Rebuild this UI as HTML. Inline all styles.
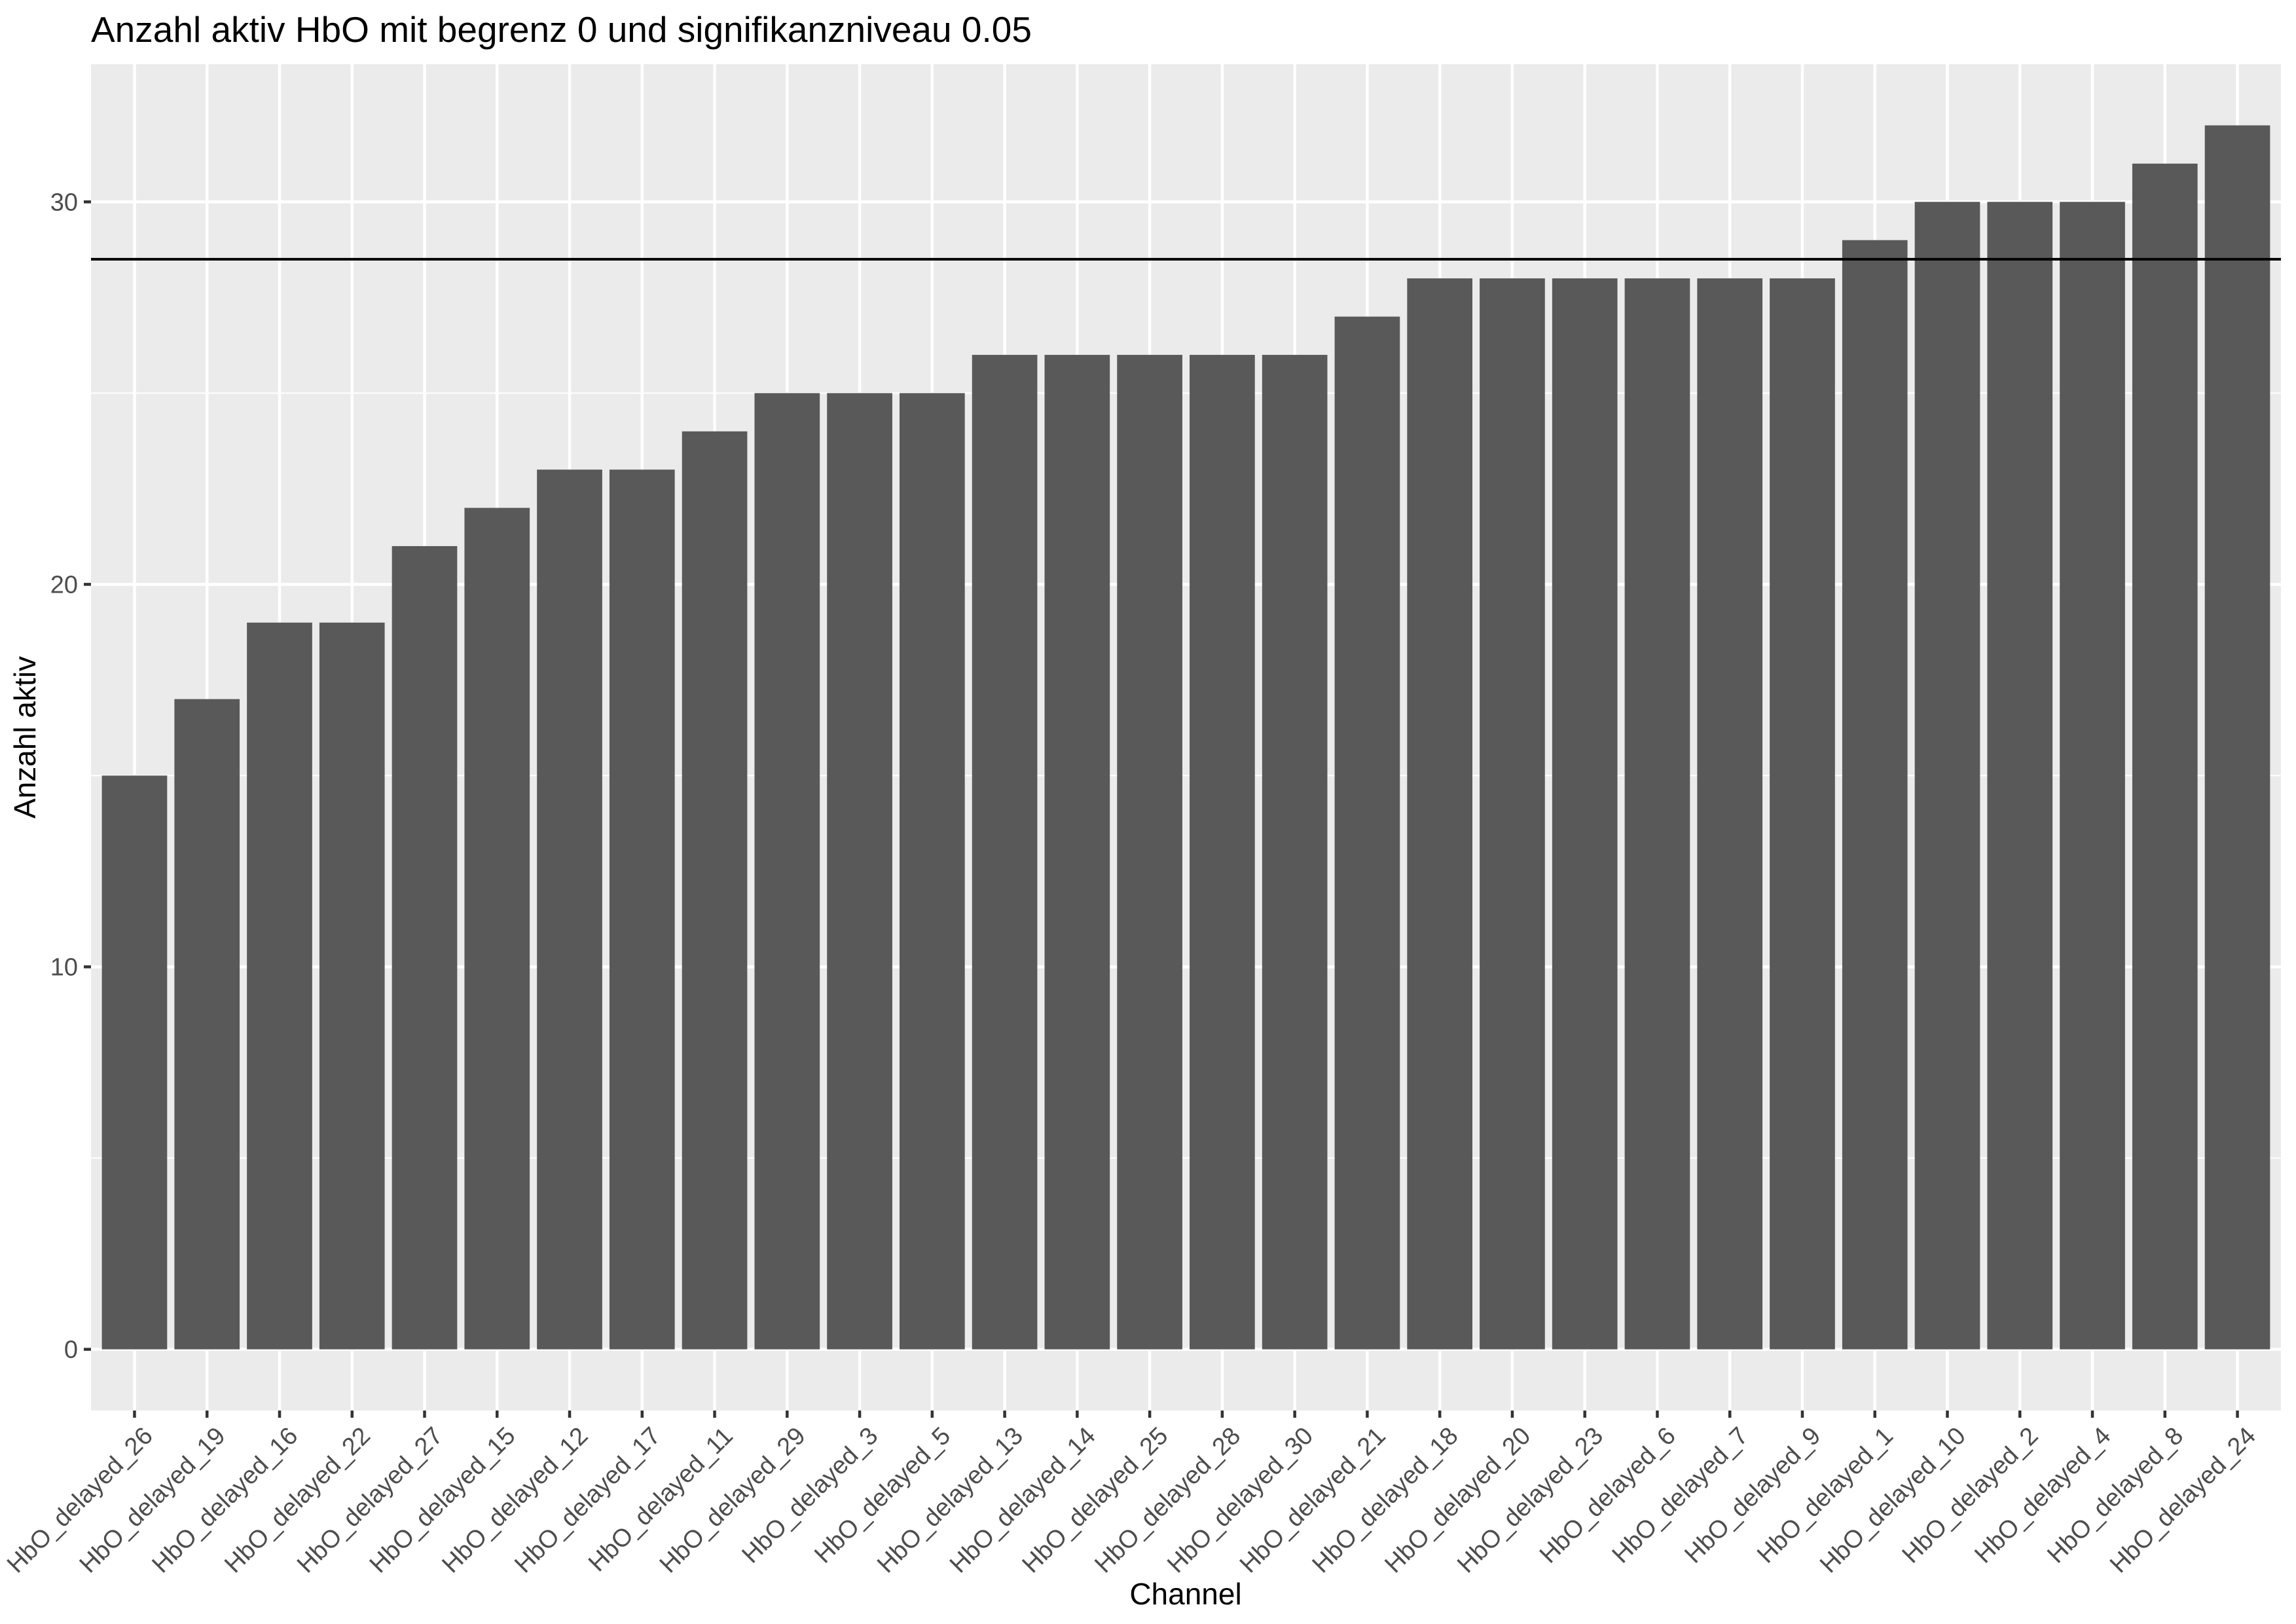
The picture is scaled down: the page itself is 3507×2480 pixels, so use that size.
<!DOCTYPE html>
<html><head><meta charset="utf-8"><style>
html,body{margin:0;padding:0;background:#fff}
svg{display:block;font-family:"Liberation Sans",Arial,sans-serif}
</style></head><body>
<svg id="chart" width="3507" height="2480" viewBox="0 0 3507 2480" xmlns="http://www.w3.org/2000/svg">
<rect width="3507" height="2480" fill="#fff"/>
<text x="139" y="64" font-size="55" fill="#000">Anzahl aktiv HbO mit begrenz 0 und signifikanzniveau 0.05</text>
<rect x="139" y="98" width="3345" height="2056" fill="#ebebeb"/>
<g id="grid"></g>
<g id="bars"></g>
<g id="axes"></g>
<text transform="translate(54,1126) rotate(-90)" text-anchor="middle" font-size="46" fill="#000">Anzahl aktiv</text>
<text x="1811" y="2450" text-anchor="middle" font-size="46" fill="#000">Channel</text>
</svg>
<script>
const categories = ["26","19","16","22","27","15","12","17","11","29","3","5","13","14","25","28","30","21","18","20","23","6","7","9","1","10","2","4","8","24"];
const values = [15,17,19,19,21,22,23,23,24,25,25,25,26,26,26,26,26,27,28,28,28,28,28,28,29,30,30,30,31,32];
const yTicks = [0,10,20,30];
const yMinor = [5,15,25];
const threshold = [28.5];

const NS = "http://www.w3.org/2000/svg";
const pl = 139, pr = 3484, pt = 98, pb = 2154;
const yMin = -1.6, yMax = 33.6;
function y(v){ return pb - (v - yMin) / (yMax - yMin) * (pb - pt); }
const n = categories.length;
const step = (pr - pl) / (n - 1 + 1.2);
function x(i){ return pl + step * (0.6 + i); }
function mk(tag, attrs, parent){
  const e = document.createElementNS(NS, tag);
  for (const k in attrs) e.setAttribute(k, attrs[k]);
  parent.appendChild(e); return e;
}
const grid = document.getElementById('grid');
const bars = document.getElementById('bars');
const axes = document.getElementById('axes');
yMinor.forEach(v => {
  const l = mk('line', {x1:pl, x2:pr, y1:y(v), y2:y(v), stroke:'#fff', 'stroke-width':2}, grid);
  
  
});
yTicks.forEach(v => {
  const l = mk('line', {x1:pl, x2:pr, y1:y(v), y2:y(v), stroke:'#fff', 'stroke-width':4.5}, grid);
  
  
  const t = mk('line', {x1:pl-11, x2:pl, y1:y(v), y2:y(v), stroke:'#333', 'stroke-width':4.5}, axes);
  
  
  const lb = mk('text', {x:pl-20, y:y(v)+13, 'text-anchor':'end', 'font-size':38, fill:'#4d4d4d'}, axes);
  lb.textContent = v;
  
  
});
categories.forEach((c, i) => {
  const cx = x(i);
  const g = mk('line', {x1:cx, x2:cx, y1:pt, y2:pb, stroke:'#fff', 'stroke-width':4.5}, grid);
  
  
  const bw = step * 0.9;
  const b = mk('rect', {x:cx-bw/2, y:y(values[i]), width:bw, height:y(0)-y(values[i]), fill:'#595959'}, bars);
  
  
  const t = mk('line', {x1:cx, x2:cx, y1:pb, y2:pb+11, stroke:'#333', 'stroke-width':4.5}, axes);
  
  
  const ax = cx + 30, ay = 2195;
  const lb = mk('text', {x:ax, y:ay, 'text-anchor':'end', 'font-size':38, fill:'#4d4d4d', transform:'rotate(-45 '+ax+' '+ay+')'}, axes);
  lb.textContent = 'HbO_delayed_' + c;
  
  
});
threshold.forEach(v => {
  const l = mk('line', {x1:pl, x2:pr, y1:y(v), y2:y(v), stroke:'#000', 'stroke-width':4}, bars);
  
  
});
</script>
</body></html>
